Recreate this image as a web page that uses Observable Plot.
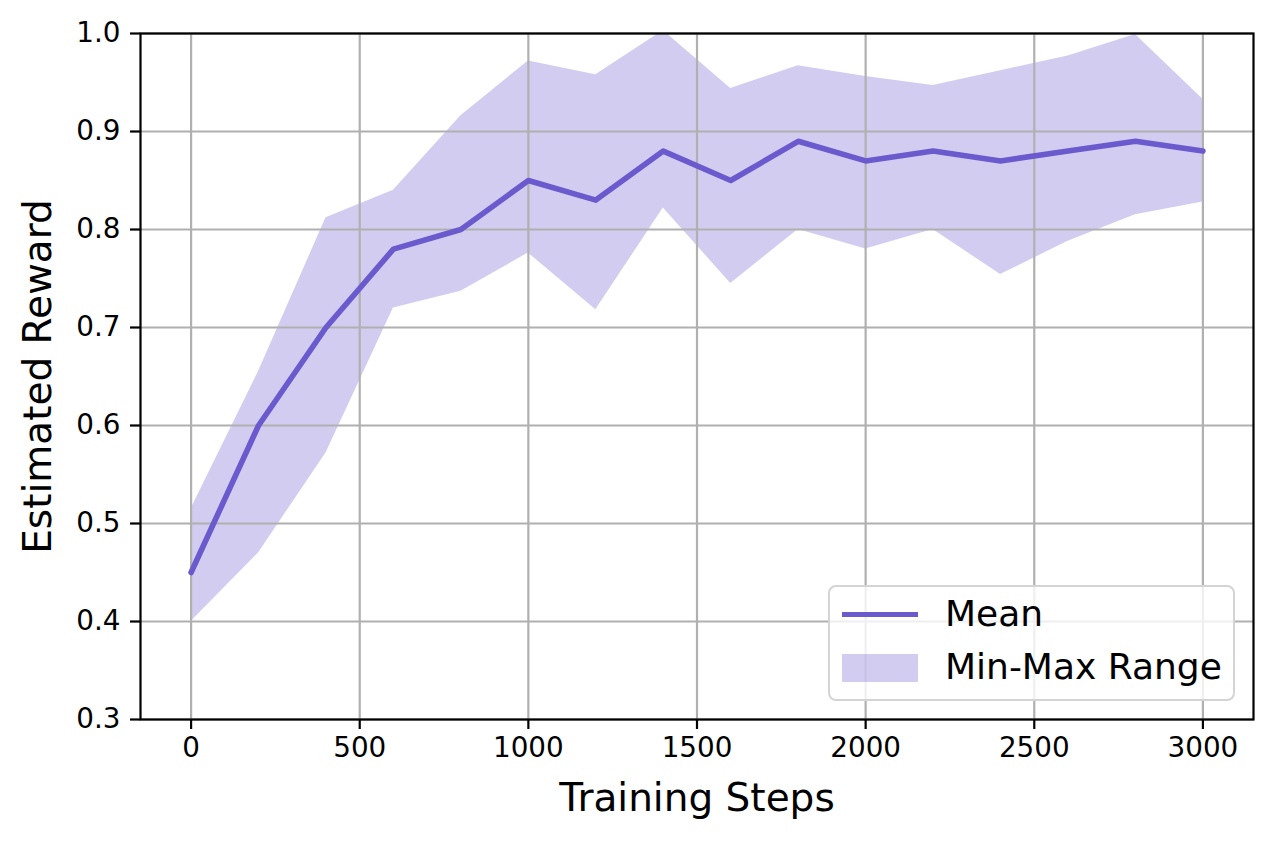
<!DOCTYPE html>
<html>
<head>
<meta charset="utf-8">
<script src="https://cdn.jsdelivr.net/npm/d3@7"></script>
<script src="https://cdn.jsdelivr.net/npm/@observablehq/plot@0.6"></script>
<style>
  html, body { margin: 0; padding: 0; background: #fff; }
  #wrap { position: relative; width: 1275px; height: 841px; font-family: "DejaVu Sans", sans-serif; }
  #legend {
    position: absolute; left: 828px; top: 585px; width: 407px; height: 116px;
    box-sizing: border-box; border: 2px solid #d4d4d4; border-radius: 8px;
    background: rgba(255,255,255,0.8);
  }
  .row { position: absolute; left: 0; font-size: 36px; color: #000; }
  .row span { position: absolute; left: 115px; white-space: nowrap; }
</style>
</head>
<body>
<div id="wrap">
  <div id="chart"></div>
  <div id="legend">
    <div class="row" style="top:28px;">
      <div style="position:absolute;left:12px;width:76px;height:5px;background:slateblue;top:-3px;"></div>
      <span style="top:-22px;">Mean</span>
    </div>
    <div class="row" style="top:81px;">
      <div style="position:absolute;left:12px;width:76px;height:28px;background:rgba(106,90,205,0.3);top:-14px;"></div>
      <span style="top:-22px;">Min-Max Range</span>
    </div>
  </div>
</div>
<script>
const steps = [0, 200, 400, 600, 800, 1000, 1200, 1400, 1600, 1800, 2000, 2200, 2400, 2600, 2800, 3000];
const meanReward = [0.45, 0.60, 0.70, 0.78, 0.80, 0.85, 0.83, 0.88, 0.85, 0.89, 0.87, 0.88, 0.87, 0.88, 0.89, 0.88];
const minReward = [0.40, 0.47, 0.572, 0.72, 0.737, 0.776, 0.718, 0.822, 0.745, 0.80, 0.78, 0.80, 0.754, 0.788, 0.815, 0.828];
const maxReward = [0.515, 0.655, 0.812, 0.84, 0.916, 0.972, 0.958, 1.003, 0.944, 0.967, 0.956, 0.947, 0.962, 0.977, 0.999, 0.933];
const xTicks = [0, 500, 1000, 1500, 2000, 2500, 3000];
const yTicks = [0.3, 0.4, 0.5, 0.6, 0.7, 0.8, 0.9, 1.0];

const data = steps.map((s, i) => ({step: s, mean: meanReward[i], lo: minReward[i], hi: maxReward[i]}));

const chart = Plot.plot({
  width: 1275,
  height: 841,
  marginLeft: 140,
  marginRight: 22,
  marginTop: 33,
  marginBottom: 122,
  style: {fontFamily: "DejaVu Sans, sans-serif", background: "#fff", color: "#000"},
  x: {domain: [-150, 3150]},
  y: {domain: [0.3, 1.0]},
  marks: [
    Plot.areaY(data, {x: "step", y1: "lo", y2: "hi", fill: "slateblue", fillOpacity: 0.3, clip: true}),
    Plot.gridX(xTicks, {stroke: "#b0b0b0", strokeOpacity: 1, strokeWidth: 2.2}),
    Plot.gridY(yTicks, {stroke: "#b0b0b0", strokeOpacity: 1, strokeWidth: 2.2}),
    Plot.lineY(data, {x: "step", y: "mean", stroke: "slateblue", strokeWidth: 5.6, clip: true}),
    Plot.frame({stroke: "#000", strokeWidth: 2.2}),
    Plot.axisX({ticks: xTicks, tickSize: 10, tickPadding: 8, strokeWidth: 2.2, fontSize: 27.8, label: null, tickFormat: d => String(d)}),
    Plot.axisY({ticks: yTicks, tickSize: 10, tickPadding: 10, strokeWidth: 2.2, fontSize: 27.8, label: null, tickFormat: d => d.toFixed(1)}),
    Plot.text(["Training Steps"], {frameAnchor: "bottom", lineAnchor: "middle", textAnchor: "middle", dy: 79, fontSize: 39, fill: "#000"}),
    Plot.text(["Estimated Reward"], {frameAnchor: "left", lineAnchor: "middle", textAnchor: "middle", rotate: -90, dx: -102, fontSize: 39, fill: "#000"})
  ]
});
document.getElementById("chart").appendChild(chart);
</script>
</body>
</html>
